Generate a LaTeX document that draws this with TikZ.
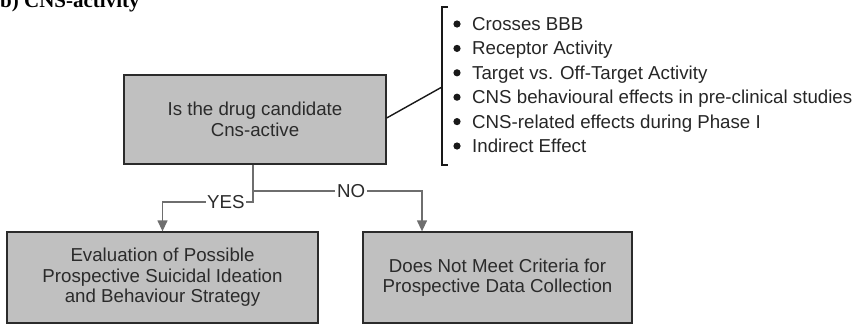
\documentclass[tikz,border=0pt]{standalone}
\usepackage{fontspec}
\setmainfont{Liberation Sans}
\newfontfamily\titlefont{Liberation Serif}
\usetikzlibrary{arrows.meta,calc}
\definecolor{boxgray}{HTML}{C0C0C0}
\definecolor{txt}{HTML}{2B2B2B}
\definecolor{conn}{HTML}{6E6E6E}
\begin{document}
\begin{tikzpicture}[x=1pt,y=-1pt,
  box/.style={draw=txt, line width=1.3pt, fill=boxgray, text=txt, align=center,
    font=\fontsize{18.7}{20.5}\selectfont, inner sep=0pt},
  link/.style={draw=conn, line width=1.3pt},
  arr/.style={-{Triangle[width=10pt,length=11pt]}},
  lab/.style={fill=white, text=txt, inner sep=1.5pt, font=\fontsize{18.7}{20}\selectfont},
  item/.style={anchor=base west, text=black!85, font=\fontsize{18.7}{20}\selectfont, inner sep=0pt},
  brk/.style={draw=black!90, line width=1.4pt}]
\useasboundingbox (0,0) rectangle (859,325);
\clip (0,0) rectangle (859,325);

% title (cut at top as in the reference)
\node[anchor=base west, inner sep=0pt, text=black,
  font=\titlefont\bfseries\fontsize{21}{21}\selectfont] (title) at (0,7) {b) CNS-activity};

% boxes
\node[box, minimum width=262pt, minimum height=89pt] (q) at (255,119.5)
  {Is the drug candidate\\Cns-active};
\node[box, minimum width=311pt, minimum height=91pt] (yes) at (162.5,277.5)
  {Evaluation of Possible\\Prospective Suicidal Ideation\\and Behaviour Strategy};
\node[box, minimum width=269pt, minimum height=91pt] (no) at (497.5,277.5)
  {Does Not Meet Criteria for\\Prospective Data Collection};

% bracket with list
\coordinate (bt) at (442,7);
\coordinate (bb) at (442,165);
\coordinate (bm) at (442,87);
\draw[brk] ($(bt)+(6,0)$) -- (bt) -- (bb) -- ($(bb)+(6,0)$);
\draw[brk] (q.east |- 0,118) -- (bm);

\foreach \t [count=\i] in {Crosses BBB, Receptor Activity, Target vs. Off-Target Activity,
  CNS behavioural effects in pre-clinical studies, CNS-related effects during Phase I,
  Indirect Effect}{
  \pgfmathsetmacro{\yy}{24+24.4*(\i-1)}
  \fill[black!90] (457,\yy) circle (3.6pt);
  \node[item] (it\i) at (472,\yy+6.5) {\t};
}

% connectors
\coordinate (j1) at (253,191);
\coordinate (j2) at (253,202);
\coordinate (yt) at (162.5,202);
\coordinate (nt) at (422,191);
\draw[link, arr] (q.south -| j1) -- (j2) -- node[lab, pos=0.3] (ylab) {YES} (yt) -- (yes.north);
\draw[link, arr] (j1) -- node[lab, pos=0.58] (nlab) {NO} (nt) -- (nt |- no.north);
\end{tikzpicture}
\end{document}
